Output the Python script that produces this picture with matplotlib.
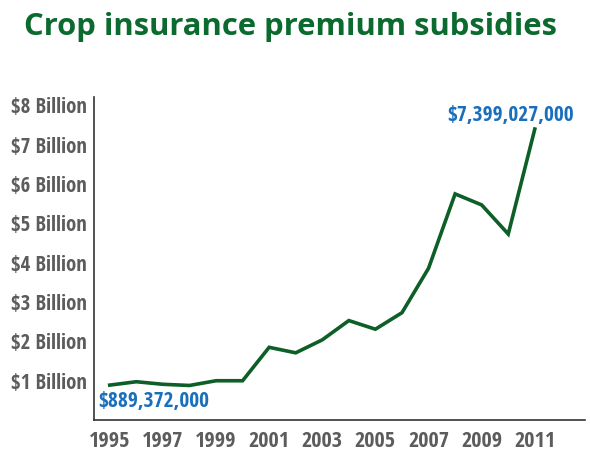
import matplotlib
matplotlib.use('Agg')
import matplotlib.pyplot as plt

years = list(range(1995, 2012))
subsidies = [0.889, 0.975, 0.91, 0.88, 1.0, 1.0, 1.85, 1.71, 2.04, 2.53, 2.31, 2.73,
             3.86, 5.75, 5.47, 4.73, 7.399]
tick_years = [1995, 1997, 1999, 2001, 2003, 2005, 2007, 2009, 2011]
ytick_vals = [1, 2, 3, 4, 5, 6, 7, 8]
ytick_labels = ['$%d Billion' % v for v in ytick_vals]
first_label = '$889,372,000'
last_label = '$7,399,027,000'

green = '#0d5f27'
title_green = '#0b6a2e'
blue = '#1a6fbd'
grey = '#5c5c5c'
narrow = ['Open Sans Condensed', 'PT Sans Narrow', 'DejaVu Sans']

fig = plt.figure(figsize=(5.9, 4.72), dpi=100)
ax = fig.add_axes([0.159, 0.110, 0.833, 0.685])

ax.plot(years, subsidies, color=green, lw=2.6, solid_joinstyle='miter')

ax.set_xlim(1994.4, 2012.9)
ax.set_ylim(0, 8.22)
ax.set_xticks(tick_years)
ax.set_xticklabels([str(y) for y in tick_years], family=narrow, fontsize=16,
                   fontweight='bold', color=grey)
ax.set_yticks(ytick_vals)
ax.set_yticklabels(ytick_labels, family=narrow, fontsize=15,
                   fontweight='bold', color=grey)
ax.tick_params(length=0, pad=5)
ax.tick_params(axis='x', pad=8)

for s in ['top', 'right']:
    ax.spines[s].set_visible(False)
for s in ['left', 'bottom']:
    ax.spines[s].set_color('#333333')
    ax.spines[s].set_linewidth(1.2)

ax.annotate(first_label, (years[0], subsidies[0]), xytext=(-8.6, -11.7),
            textcoords='offset points', ha='left', va='center',
            family=narrow, fontsize=15.5, fontweight='bold', color=blue)
ax.annotate(last_label, (years[-1], subsidies[-1]), xytext=(28, 9.9),
            textcoords='offset points', ha='right', va='center',
            family=narrow, fontsize=15.5, fontweight='bold', color=blue)

fig.text(0.493, 0.925, 'Crop insurance premium subsidies', ha='center', va='baseline',
         family=['Open Sans', 'DejaVu Sans'], fontsize=22.3, fontweight='bold',
         color=title_green)

fig.savefig('out.png', dpi=100)
